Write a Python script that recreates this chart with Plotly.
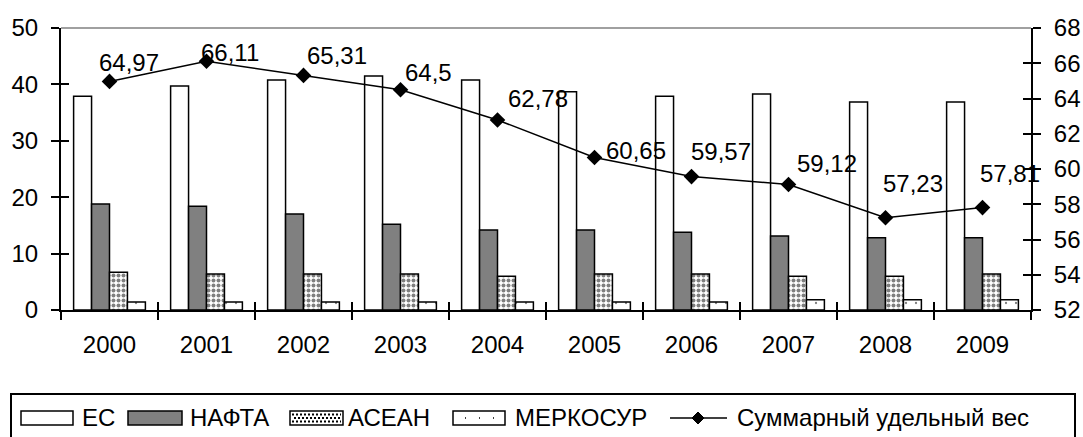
import plotly.graph_objects as go

years = ["2000", "2001", "2002", "2003", "2004", "2005", "2006", "2007", "2008", "2009"]
es = [37.9, 39.7, 40.8, 41.5, 40.8, 38.7, 37.9, 38.3, 36.9, 36.9]
nafta = [18.8, 18.4, 17.0, 15.2, 14.2, 14.2, 13.8, 13.1, 12.8, 12.8]
asean = [6.7, 6.4, 6.4, 6.4, 6.0, 6.4, 6.4, 6.0, 6.0, 6.4]
mercosur = [1.4, 1.4, 1.4, 1.4, 1.4, 1.4, 1.4, 1.8, 1.8, 1.8]
total = [64.97, 66.11, 65.31, 64.5, 62.78, 60.65, 59.57, 59.12, 57.23, 57.81]
series_names = ["ЕС", "НАФТА", "АСЕАН", "МЕРКОСУР", "Суммарный удельный вес"]

# label pixel offsets (style): (dx, dy up)
label_shift = [(19, 19), (23, 9), (33, 20), (28, 17), (40, 22),
               (41, 7), (29, 25), (38, 21), (27, 34), (27, 34)]

FONT = "Liberation Sans, Arial, sans-serif"
FS = 24
W, H = 1083, 437
ML, MR, MT, MB = 61, 52, 28, 127
PW, PH = W - ML - MR, H - MT - MB


def px(xp):
    return (xp - ML) / PW


def py(yp):
    return (H - MB - yp) / PH


fig = go.Figure()
line_style = dict(color="black", width=1.5)
fig.add_trace(go.Bar(name=series_names[0], x=years, y=es,
                     marker=dict(color="white", line=line_style)))
fig.add_trace(go.Bar(name=series_names[1], x=years, y=nafta,
                     marker=dict(color="#808080", line=line_style)))
fig.add_trace(go.Bar(name=series_names[2], x=years, y=asean,
                     marker=dict(color="white", line=line_style,
                                 pattern=dict(shape=".", fgcolor="black", bgcolor="white",
                                              size=5, solidity=0.5, fillmode="overlay"))))
fig.add_trace(go.Bar(name=series_names[3], x=years, y=mercosur,
                     marker=dict(color="white", line=line_style,
                                 pattern=dict(shape=".", fgcolor="black", bgcolor="white",
                                              size=10, solidity=0.04, fillmode="overlay"))))
fig.add_trace(go.Scatter(name=series_names[4], x=years, y=total, yaxis="y2",
                         mode="lines+markers",
                         line=dict(color="black", width=1.5),
                         marker=dict(symbol="diamond", size=12, color="black")))
# helper empty traces so overlay tick axes are drawn
fig.add_trace(go.Scatter(x=[None], y=[None], xaxis="x2", yaxis="y3", showlegend=False, hoverinfo="skip"))
fig.add_trace(go.Scatter(x=[None], y=[None], xaxis="x2", yaxis="y4", showlegend=False, hoverinfo="skip"))

label_font = dict(family=FONT, size=FS, color="black")
for i, (v, (dx, dy)) in enumerate(zip(total, label_shift)):
    fig.add_annotation(x=i, y=v, xref="x", yref="y2",
                       text=("%g" % v).replace(".", ","), showarrow=False,
                       xshift=dx, yshift=dy, font=label_font)

# ---- custom legend (box, swatches, texts) ----
shapes = [
    dict(type="line", xref="paper", yref="paper", x0=0, x1=1, y0=1, y1=1,
         line=dict(color="#808080", width=1.5), layer="below"),
    dict(type="rect", xref="paper", yref="paper", x0=px(11), x1=px(1075),
         y0=py(394), y1=py(442), line=dict(color="black", width=2),
         fillcolor="rgba(0,0,0,0)"),
]
sw_top, sw_bot, cy = 411, 425, 418
swatches = [(21, 73, "white"), (128, 182, "#808080"), (290, 343, "white"), (453, 505, "white")]
for x0, x1, col in swatches:
    shapes.append(dict(type="rect", xref="paper", yref="paper", x0=px(x0), x1=px(x1),
                       y0=py(sw_top), y1=py(sw_bot), fillcolor=col,
                       line=dict(color="black", width=1.5)))
# ASEAN pattern in legend swatch
for yy, xs in [(414.5, 292), (418, 294), (421.5, 292)]:
    shapes.append(dict(type="line", xref="paper", yref="paper", x0=px(xs), x1=px(341),
                       y0=py(yy), y1=py(yy), line=dict(color="black", width=2, dash="2px,2px")))
# MERCOSUR sparse dots
shapes.append(dict(type="line", xref="paper", yref="paper", x0=px(465), x1=px(500),
                   y0=py(cy), y1=py(cy), line=dict(color="black", width=1.5, dash="1px,13px")))
# line + diamond sample
shapes.append(dict(type="line", xref="paper", yref="paper", x0=px(670), x1=px(727),
                   y0=py(cy), y1=py(cy), line=dict(color="black", width=1.5)))
d = 6
shapes.append(dict(type="path", xref="paper", yref="paper",
                   path="M{},{} L{},{} L{},{} L{},{} Z".format(
                       px(698), py(cy - d), px(698 + d), py(cy), px(698), py(cy + d), px(698 - d), py(cy)),
                   fillcolor="black", line=dict(color="black", width=1)))

text_x = [80, 188, 346, 513, 735]
for name, tx in zip(series_names, text_x):
    fig.add_annotation(x=px(tx), y=py(cy), xref="paper", yref="paper", xanchor="left",
                       yanchor="middle", text=name, showarrow=False, font=label_font)

axis_font = dict(family=FONT, size=FS, color="black")
fig.update_layout(
    width=W, height=H,
    margin=dict(l=ML, r=MR, t=MT, b=MB, autoexpand=False),
    paper_bgcolor="white", plot_bgcolor="white",
    barmode="group", bargap=0.26, bargroupgap=0,
    font=axis_font,
    showlegend=False,
    xaxis=dict(type="category", range=[-0.5, 9.5], tickson="boundaries",
               ticks="outside", ticklen=8, tickwidth=1.5, tickcolor="black",
               showline=True, linecolor="black", linewidth=2,
               showgrid=False, tickfont=axis_font, ticklabelstandoff=12),
    xaxis2=dict(overlaying="x", anchor="y", range=[-0.5, 9.5], tick0=0.5, dtick=1,
                ticks="inside", ticklen=8, tickwidth=1.5, tickcolor="black",
                showticklabels=False, showline=False, showgrid=False, zeroline=False),
    yaxis=dict(range=[0, 50], dtick=10, ticks="outside", ticklen=8, tickwidth=1.5,
               tickcolor="black", showline=True, linecolor="black", linewidth=2,
               showgrid=False, zeroline=False, tickfont=axis_font, ticklabelstandoff=8),
    yaxis2=dict(range=[52, 68], dtick=2, overlaying="y", side="right", anchor="x",
                ticks="outside", ticklen=8, tickwidth=1.5, tickcolor="black",
                showline=True, linecolor="black", linewidth=2,
                showgrid=False, zeroline=False, tickfont=axis_font, ticklabelstandoff=8),
    yaxis3=dict(range=[0, 50], dtick=10, overlaying="y", side="left", anchor="x2",
                ticks="inside", ticklen=8, tickwidth=1.5, tickcolor="black",
                showticklabels=False, showline=False, showgrid=False, zeroline=False),
    yaxis4=dict(range=[52, 68], dtick=2, overlaying="y", side="right", anchor="x2",
                ticks="inside", ticklen=8, tickwidth=1.5, tickcolor="black",
                showticklabels=False, showline=False, showgrid=False, zeroline=False),
    shapes=shapes,
)

fig.write_html("out.html", config={"displayModeBar": False},
               post_script="document.body.style.margin='0';document.body.style.overflow='hidden';")
